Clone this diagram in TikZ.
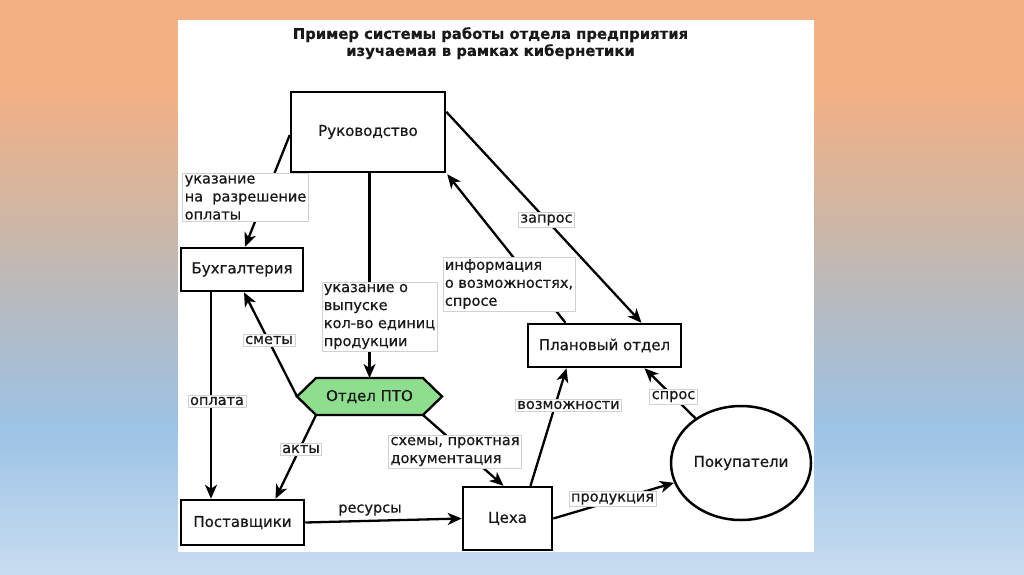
\documentclass[tikz,border=0pt]{standalone}
\usepackage{fontspec}
\setmainfont{DejaVu Sans}[FakeBold=0.6]
\newfontfamily\lblfont{DejaVu Sans}[FakeBold=0.6]
\newfontfamily\ttlfont{DejaVu Sans Bold}[FakeBold=0.4]
\usetikzlibrary{arrows.meta,shapes.geometric,calc}
\definecolor{bgA}{RGB}{243,176,131}
\definecolor{bgB}{RGB}{200,183,172}
\definecolor{bgC}{RGB}{174,188,204}
\definecolor{bgD}{RGB}{157,195,230}
\definecolor{bgE}{RGB}{200,220,240}
\definecolor{ptogreen}{RGB}{143,222,143}
\definecolor{txt}{RGB}{25,25,25}
\begin{document}
\begin{tikzpicture}[x=1pt,y=-1pt,
  box/.style={draw=black, line width=2.5pt, fill=white, text=txt,
    font={\lblfont\fontsize{15}{18}\selectfont}, inner sep=2pt},
  lbl/.style={fill=white, draw=black!18, line width=0.6pt, text=txt,
    align=left, inner sep=2pt, font={\lblfont\fontsize{14.5}{18}\selectfont}},
  conn/.style={draw=black, line width=2.3pt,
    -{Stealth[length=14pt,width=12pt,inset=4pt]}}
]
\useasboundingbox (0,0) rectangle (1024,574);
% background gradient
\fill[bgA] (0,0) rectangle (1024,90);
\shade[top color=bgA, bottom color=bgB] (0,89.5) rectangle (1024,240);
\shade[top color=bgB, bottom color=bgC] (0,239.5) rectangle (1024,340);
\shade[top color=bgC, bottom color=bgD] (0,339.5) rectangle (1024,430);
\shade[top color=bgD, bottom color=bgE] (0,429.5) rectangle (1024,574);
% white panel
\fill[white] (178,20) rectangle (814,552);

% title
\node[font={\ttlfont\fontsize{14.8}{17}\selectfont}, text=txt, align=center, anchor=north, inner sep=0pt]
  (title) at (490.5,27) {Пример системы работы отдела предприятия\\изучаемая в рамках кибернетики};

% main boxes
\node[box, minimum width=154, minimum height=80] (ruk) at (368,132) {Руководство};
\node[box, minimum width=122, minimum height=43] (buh) at (242,269.5) {Бухгалтерия};
\node[box, minimum width=153, minimum height=43] (plan) at (604.5,345.5) {Плановый отдел};
\node[box, minimum width=123, minimum height=45] (post) at (242.5,522.5) {Поставщики};
\node[box, minimum width=89, minimum height=63] (ceh) at (507.5,518.5) {Цеха};
\node[box, ellipse, minimum width=140, minimum height=114] (pok) at (741,463) {Покупатели};

% hexagon Отдел ПТО
\coordinate (ptoL) at (297,396.5);
\coordinate (ptoTL) at (316,378);
\coordinate (ptoTR) at (423,378);
\coordinate (ptoR) at (442,396.5);
\coordinate (ptoBR) at (423,415);
\coordinate (ptoBL) at (316,415);
\coordinate (ptoT) at (369.5,378);
\filldraw[fill=ptogreen, draw=black, line width=2.3pt, line join=miter]
  (ptoL) -- (ptoTL) -- (ptoTR) -- (ptoR) -- (ptoBR) -- (ptoBL) -- cycle;
\node[text=txt, font={\lblfont\fontsize{15}{18}\selectfont}] (pto) at (369.5,396.5) {Отдел ПТО};

% connectors
\draw[conn] ($(ruk.west)+(0,3)$) -- ($(buh.north)+(3,0)$);
\draw[conn] ($(ruk.south)+(1.5,0)$) -- (ptoT);
\draw[conn] ($(ruk.north east)+(0,21)$) -- ($(plan.north)+(37,0)$);
\draw[conn] ($(plan.north)+(-39,0)$) -- ($(ruk.south east)+(1,1)$);
\draw[conn] (ptoL) -- ($(buh.south)+(2,0)$);
\draw[conn] ($(buh.south)+(-31,0)$) -- ($(post.north)+(-31.5,0)$);
\draw[conn] (ptoBL) -- ($(post.north)+(33,0)$);
\draw[conn] (ptoBR) -- ($(ceh.north)+(-4,0)$);
\draw[conn] (post.east) -- (ceh.west);
\draw[conn] ($(ceh.north)+(23,0)$) -- ($(plan.south)+(-38,0)$);
\draw[conn] (pok) -- ($(plan.south)+(40,0)$);
\draw[conn] (ceh.east) -- (pok);

% labels
\node[lbl] (l1) at (245.5,197.5) {указание\\на\ \ разрешение\\оплаты};
\node[lbl] (l2) at (379.5,316.5) {указание о\\выпуске\\кол-во единиц\\продукции};
\node[lbl] (l3) at (546.5,220) {запрос};
\node[lbl] (l4) at (509,284) {информация\\о возможностях,\\спросе};
\node[lbl] (l5) at (269,340) {сметы};
\node[lbl] (l6) at (217,401) {оплата};
\node[lbl] (l7) at (301,449) {акты};
\node[lbl] (l8) at (455,451.5) {схемы, проктная\\документация};
\node[lbl, draw=none, inner sep=1pt] (l9) at (370,510) {ресурсы};
\node[lbl] (l10) at (568.5,405) {возможности};
\node[lbl] (l11) at (673.5,396.5) {спрос};
\node[lbl] (l12) at (612.5,499) {продукция};
\end{tikzpicture}
\end{document}
